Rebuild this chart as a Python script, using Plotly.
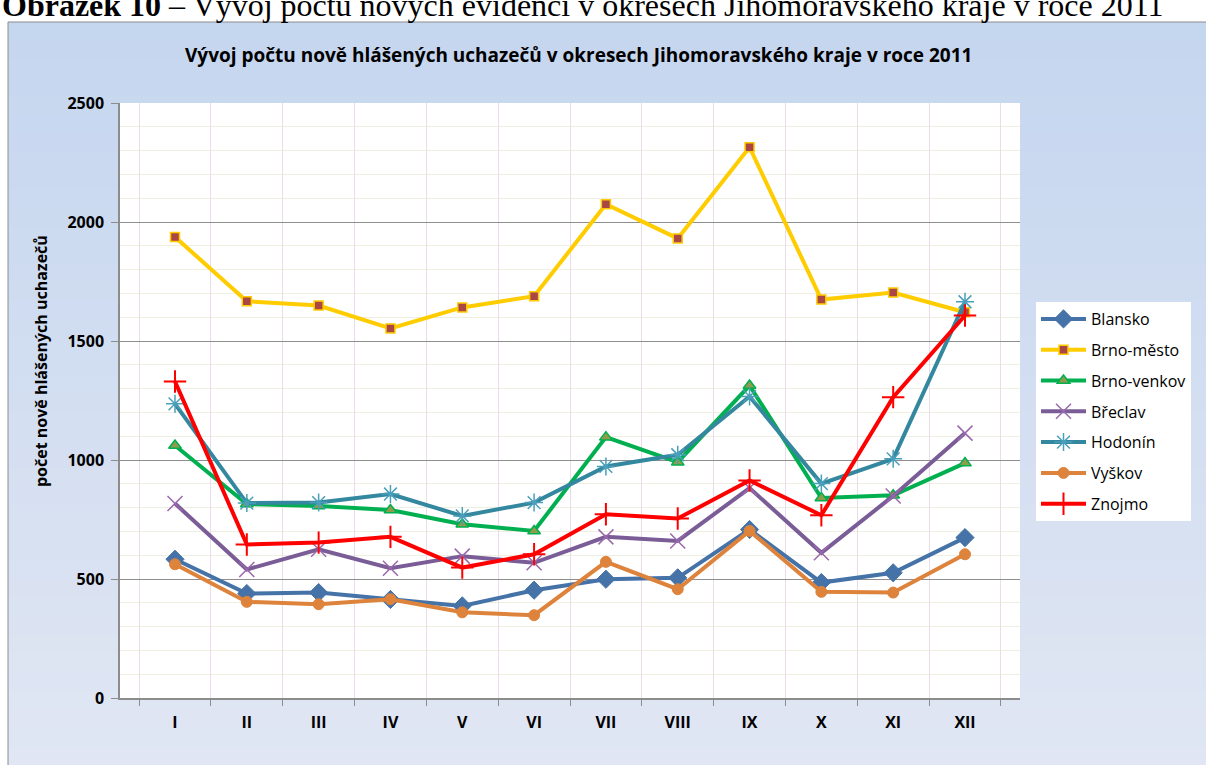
import plotly.graph_objects as go

months = ["I", "II", "III", "IV", "V", "VI", "VII", "VIII", "IX", "X", "XI", "XII"]
blansko = [583, 439, 443, 414, 387, 453, 499, 505, 708, 485, 526, 674]
brno_mesto = [1937, 1667, 1649, 1553, 1641, 1688, 2075, 1931, 2314, 1674, 1704, 1621]
brno_venkov = [1061, 815, 807, 790, 730, 702, 1096, 991, 1313, 840, 852, 987]
breclav = [817, 540, 625, 545, 596, 568, 677, 660, 882, 610, 849, 1113]
hodonin = [1236, 819, 821, 857, 765, 821, 973, 1022, 1267, 901, 1005, 1665]
vyskov = [562, 404, 394, 415, 360, 348, 572, 457, 702, 446, 443, 604]
znojmo = [1330, 645, 653, 677, 548, 604, 772, 754, 914, 768, 1264, 1607]
y_ticks = [0, 500, 1000, 1500, 2000, 2500]

W, H = 1206, 765
L, R, T, B = 120, 186, 103, 67
PW, PH = W - L - R, H - T - B


def px(x):
    return (x - L) / PW


def py(y):
    return (H - B - y) / PH


FONT = "Open Sans"

series = [
    ("Blansko", blansko, dict(color="#4572a7", width=4),
     dict(symbol="diamond", size=14, color="#4572a7", line=dict(color="#4572a7", width=1))),
    ("Brno-město", brno_mesto, dict(color="#ffcc00", width=4),
     dict(symbol="square", size=9, color="#aa4643", line=dict(color="#ffcc00", width=1.5))),
    ("Brno-venkov", brno_venkov, dict(color="#00b050", width=4),
     dict(symbol="triangle-up", size=11, color="#8e9c4b", line=dict(color="#00b050", width=1.5))),
    ("Břeclav", breclav, dict(color="#7a5c97", width=4),
     dict(symbol="x-thin", size=15, color="#9b68ad", line=dict(color="#9b68ad", width=1.5))),
    ("Hodonín", hodonin, dict(color="#33879e", width=4),
     dict(symbol="asterisk", size=15, color="#4a9fbb", line=dict(color="#4a9fbb", width=1.5))),
    ("Vyškov", vyskov, dict(color="#de833c", width=4),
     dict(symbol="circle", size=11, color="#de833c", line=dict(color="#de833c", width=1))),
    ("Znojmo", znojmo, dict(color="#ff0000", width=4),
     dict(symbol="cross-thin", size=16, color="#ff0000", line=dict(color="#ff0000", width=2))),
]

fig = go.Figure()
for name, vals, ln, mk in series:
    fig.add_trace(go.Scatter(x=months, y=vals, name=name, mode="lines+markers",
                             line=ln, marker=mk, legendgroup=name))

# gradient background of the chart frame
shapes = []
top_c = (197, 214, 239)
bot_c = (224, 230, 243)
y_start, y_end = 22, 765
n = 40
for i in range(n):
    t = i / (n - 1)
    c = tuple(int(round(top_c[k] + (bot_c[k] - top_c[k]) * t)) for k in range(3))
    y0 = y_start + (y_end - y_start) * i / n
    y1 = y_start + (y_end - y_start) * (i + 1) / n + 1
    shapes.append(dict(type="rect", xref="paper", yref="paper", layer="below",
                       x0=px(8), x1=px(W + 5), y0=py(y0), y1=py(y1),
                       fillcolor="rgb(%d,%d,%d)" % c, line=dict(width=0)))
shapes.append(dict(type="rect", xref="paper", yref="paper", layer="below",
                   x0=0, x1=1, y0=0, y1=1, fillcolor="white", line=dict(width=0)))
shapes.append(dict(type="rect", xref="paper", yref="paper", layer="below",
                   x0=px(8), x1=px(W + 5), y0=py(22), y1=py(H + 5),
                   fillcolor="rgba(0,0,0,0)", line=dict(color="#8c8c8c", width=1)))

annotations = [
    dict(text="<b>Obrázek 10</b> – Vývoj počtu nových evidencí v okresech Jihomoravského kraje v roce 2011",
         xref="paper", yref="paper", x=px(0), y=py(5), xanchor="left", yanchor="middle",
         showarrow=False, font=dict(family="Liberation Serif", size=32, color="black")),
    dict(text="<b>Vývoj počtu nově hlášených uchazečů v okresech Jihomoravského kraje v roce 2011</b>",
         xref="paper", yref="paper", x=px(578), y=py(55), xanchor="center", yanchor="middle",
         showarrow=False, font=dict(family=FONT, size=19, color="black")),
    dict(text="<b>počet nově hlášených uchazečů</b>",
         xref="paper", yref="paper", x=px(41), y=py(361), xanchor="center", yanchor="middle",
         textangle=-90, showarrow=False, font=dict(family=FONT, size=16, color="black")),
]

fig.update_layout(
    width=W, height=H,
    margin=dict(l=L, r=R, t=T, b=B, autoexpand=False),
    paper_bgcolor="white",
    plot_bgcolor="white",
    shapes=shapes,
    annotations=annotations,
    showlegend=True,
    legend=dict(x=px(1036), y=py(302), xanchor="left", yanchor="top",
                bgcolor="white", borderwidth=0, tracegroupgap=7,
                font=dict(family=FONT, size=16, color="black"), itemwidth=45),
    xaxis=dict(type="category", tickson="boundaries", showgrid=True,
               gridcolor="#eadcea", gridwidth=1.2,
               showline=True, linecolor="#8c8c8c", linewidth=1.5,
               ticks="outside", ticklen=6, tickcolor="#8c8c8c", tickwidth=1.3,
               ticklabelstandoff=9,
               tickfont=dict(family=FONT, size=16, color="black", weight="bold")),
    yaxis=dict(range=[0, 2500], tickvals=y_ticks, showgrid=True,
               gridcolor="#8e8e8e", gridwidth=1.3, zeroline=False,
               showline=True, linecolor="#8c8c8c", linewidth=1.5,
               ticks="outside", ticklen=7, tickcolor="#8c8c8c", tickwidth=1.3,
               ticklabelstandoff=4,
               minor=dict(dtick=100, showgrid=True, gridcolor="#efefe1", gridwidth=1.3),
               tickfont=dict(family=FONT, size=16, color="black", weight="bold")),
)

fig.write_html("out.html", config={"displayModeBar": False},
               post_script="document.body.style.margin='0px';")
